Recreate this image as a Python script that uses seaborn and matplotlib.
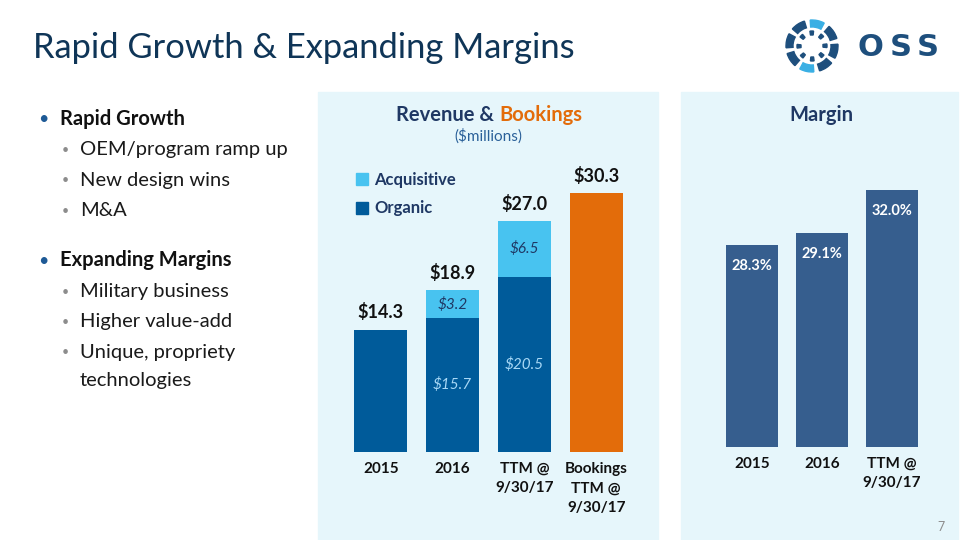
import matplotlib
matplotlib.use("Agg")
import matplotlib.pyplot as plt
from matplotlib.patches import Rectangle, Wedge
import seaborn as sns
import pandas as pd
import numpy as np

# ---------------- data ----------------
rev_categories = ["2015", "2016", "TTM @\n9/30/17", "Bookings\nTTM @\n9/30/17"]
organic = [14.3, 15.7, 20.5, np.nan]
acquisitive = [0.0, 3.2, 6.5, np.nan]
rev_totals = [14.3, 18.9, 27.0, 30.3]
total_labels = ["$14.3", "$18.9", "$27.0", "$30.3"]
organic_labels = [None, "$15.7", "$20.5", None]
acq_labels = [None, "$3.2", "$6.5", None]

margin_categories = ["2015", "2016", "TTM @\n9/30/17"]
margin_values = [28.3, 29.1, 32.0]
margin_labels = ["28.3%", "29.1%", "32.0%"]

bullets = [
    ("Rapid Growth", [["OEM/program ramp up"], ["New design wins"], ["M&A"]]),
    ("Expanding Margins", [["Military business"], ["Higher value-add"],
                           ["Unique, propriety", "technologies"]]),
]

# ---------------- style ----------------
sns.set_theme(style="white")
plt.rcParams["font.family"] = ["Lato", "DejaVu Sans"]

W, H = 960, 540
fig = plt.figure(figsize=(9.6, 5.4), dpi=100)
fig.patch.set_facecolor("white")

DARK = "#0F3557"
ORG = "#005B9A"
ACQ = "#48C3F0"
BOOK = "#E36C0A"
MARG = "#365E8E"
PANEL = "#E6F6FB"


def fx(x):
    return x / W


def fy(y):
    return 1 - y / H


def ftext(x, y, s, **kw):
    return fig.text(fx(x), fy(y), s, **kw)


# panels (behind everything)
fig.patches.append(Rectangle((fx(318), fy(540)), fx(658) - fx(318), fy(92) - fy(540),
                             transform=fig.transFigure, color=PANEL, zorder=-10))
fig.patches.append(Rectangle((fx(681), fy(540)), fx(958) - fx(681), fy(92) - fy(540),
                             transform=fig.transFigure, color=PANEL, zorder=-10))

# title
ftext(33, 48, "Rapid Growth & Expanding Margins", fontsize=24.8, color=DARK, va="center", ha="left")

# logo
cx, cy = 812, 46
ax_logo = fig.add_axes([fx(cx - 32), fy(cy + 32), 64 / W, 64 / H])
ax_logo.set_xlim(-32, 32)
ax_logo.set_ylim(-32, 32)
ax_logo.set_aspect("equal")
ax_logo.axis("off")
LOGO_D = "#1E4F7D"
LOGO_L = "#3AAFE4"
for i in range(8):
    a0 = 62 + i * 45
    col = LOGO_L if i in (0, 4) else LOGO_D
    ax_logo.add_patch(Wedge((0, 0), 26, a0, a0 + 32, width=7, color=col))
for i in range(8):
    a0 = 62 + i * 45 + 22
    ax_logo.add_patch(Wedge((0, 0), 15, a0, a0 + 14, width=4, color=LOGO_D))
for xx, ch in zip([870, 901, 928], ["O", "S", "S"]):
    ftext(xx, 48, ch, fontsize=22, fontweight="bold", color=LOGO_D, va="center", ha="center",
          family=["DejaVu Sans"])

# bullets
y = 119
for head, subs in bullets:
    ftext(38, y, "•", fontsize=13, color="#1E5A96", va="center", ha="left")
    ftext(60, y, head, fontsize=14.5, fontweight="bold", color="#111111", va="center", ha="left")
    y += 31
    for lines in subs:
        ftext(62, y, "•", fontsize=9, color="#8C8C8C", va="center", ha="left")
        for k, s in enumerate(lines):
            ftext(80, y, s, fontsize=14.5, color="#1A1A1A", va="center", ha="left")
            if k < len(lines) - 1:
                y += 28
        y += 30.5
    y += 19

# ---------------- revenue chart ----------------
ax1 = fig.add_axes([fx(345), fy(452), (632 - 345) / W, (452 - 170) / H])
ax1.set_facecolor("none")
df_tot = pd.DataFrame({"cat": rev_categories, "val": rev_totals})
pal_tot = {c: (BOOK if i == 3 else ACQ) for i, c in enumerate(rev_categories)}
sns.barplot(data=df_tot, x="cat", y="val", hue="cat", palette=pal_tot, order=rev_categories,
            dodge=False, legend=False, width=0.74, saturation=1, ax=ax1, zorder=2,
            linewidth=0, edgecolor="none")
df_org = pd.DataFrame({"cat": rev_categories, "val": organic})
sns.barplot(data=df_org, x="cat", y="val", color=ORG, order=rev_categories,
            width=0.74, saturation=1, ax=ax1, zorder=3, linewidth=0, edgecolor="none")
ax1.set_xlim(-0.5, 3.5)
ax1.set_ylim(0, 282 / 8.55)
for sp in ax1.spines.values():
    sp.set_visible(False)
ax1.set_yticks([])
ax1.set_xlabel("")
ax1.set_ylabel("")
ax1.tick_params(axis="x", length=0, pad=7)
for lab in ax1.get_xticklabels():
    lab.set_fontweight("bold")
    lab.set_fontsize(11)
    lab.set_color("#111111")
    lab.set_va("top")
    lab.set_linespacing(1.5)

for i, t in enumerate(rev_totals):
    ax1.annotate(total_labels[i], (i, t), xytext=(0, 6), textcoords="offset points",
                 ha="center", va="bottom", fontsize=13, fontweight="bold", color="#111111")
for i in range(4):
    if organic_labels[i]:
        ax1.text(i, organic[i] * 0.5, organic_labels[i],
                 ha="center", va="center", fontsize=11, style="italic", color="#A8D8F6", zorder=5)
    if acq_labels[i]:
        ax1.text(i, organic[i] + acquisitive[i] / 2, acq_labels[i], ha="center", va="center",
                 fontsize=11, style="italic", color="#1F3864", zorder=5)

# legend
ax1.legend(handles=[Rectangle((0, 0), 1, 1, color=ACQ), Rectangle((0, 0), 1, 1, color=ORG)],
           labels=["Acquisitive", "Organic"], loc="upper left",
           bbox_to_anchor=((356 - 345) / 287, (452 - 172) / 282), frameon=False,
           prop={"weight": "bold", "size": 12}, labelcolor="#1F3864",
           handlelength=0.7, handleheight=0.7, handletextpad=0.4, labelspacing=0.75,
           borderaxespad=0, borderpad=0)

# panel titles
ftext(494, 115, "Revenue &", fontsize=14.5, fontweight="bold", color="#1F3864", ha="right", va="center")
ftext(499, 115, "Bookings", fontsize=14.5, fontweight="bold", color=BOOK, ha="left", va="center")
ftext(488, 136, "($millions)", fontsize=11, color="#2A6099", ha="center", va="center")
ftext(821, 115, "Margin", fontsize=14.5, fontweight="bold", color="#1F3864", ha="center", va="center")

# ---------------- margin chart ----------------
ax2 = fig.add_axes([fx(717), fy(447), (927 - 717) / W, (447 - 170) / H])
ax2.set_facecolor("none")
df_m = pd.DataFrame({"cat": margin_categories, "val": margin_values})
sns.barplot(data=df_m, x="cat", y="val", color=MARG, order=margin_categories,
            width=0.74, saturation=1, ax=ax2, linewidth=0, edgecolor="none")
ax2.set_xlim(-0.5, 2.5)
ax2.set_ylim(14.7, 14.7 + 277 / 14.86)
for sp in ax2.spines.values():
    sp.set_visible(False)
ax2.set_yticks([])
ax2.set_xlabel("")
ax2.set_ylabel("")
ax2.tick_params(axis="x", length=0, pad=7)
for lab in ax2.get_xticklabels():
    lab.set_fontweight("bold")
    lab.set_fontsize(11)
    lab.set_color("#111111")
    lab.set_va("top")
    lab.set_linespacing(1.5)
for i, v in enumerate(margin_values):
    ax2.annotate(margin_labels[i], (i, v), xytext=(0, -15), textcoords="offset points",
                 ha="center", va="center", fontsize=10.5, fontweight="bold", color="white")

# page number
ftext(941, 527, "7", fontsize=9, color="#8C8C8C", ha="center", va="center")

fig.savefig("out.png", dpi=100)
